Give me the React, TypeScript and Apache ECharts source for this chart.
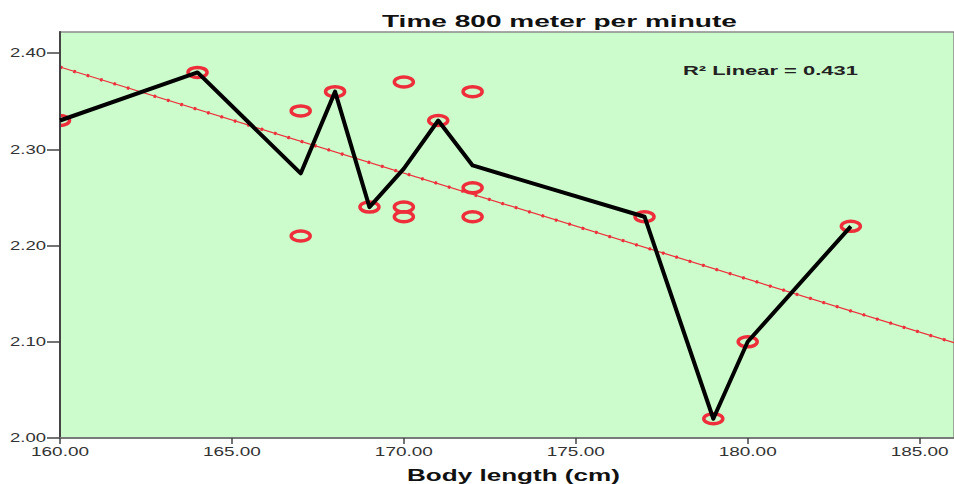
import React, { useEffect, useRef } from "react";
import * as echarts from "echarts";

const bodyLength = [160, 164, 167, 167, 168, 169, 170, 170, 170, 171, 172, 172, 172, 177, 179, 180, 183];
const time800 = [2.33, 2.38, 2.34, 2.21, 2.36, 2.24, 2.37, 2.24, 2.23, 2.33, 2.36, 2.26, 2.23, 2.23, 2.02, 2.1, 2.22];
const xTicks = [160, 165, 170, 175, 180, 185];
const yTicks = [2.0, 2.1, 2.2, 2.3, 2.4];
const titleText = "Time 800 meter per minute";
const xAxisTitle = "Body length (cm)";
const r2Label = "R² Linear = 0.431";

const X_MIN = 160;
const X_MAX = 186;
const Y_MIN = 2.0;
const Y_MAX = 2.422;
const FONT = '"Liberation Sans", Arial, sans-serif';

function groupMeans(): [number, number][] {
  const map = new Map<number, number[]>();
  bodyLength.forEach((x, i) => {
    if (!map.has(x)) map.set(x, []);
    map.get(x)!.push(time800[i]);
  });
  return Array.from(map.entries())
    .sort((a, b) => a[0] - b[0])
    .map(([x, ys]) => [x, ys.reduce((s, v) => s + v, 0) / ys.length]);
}

function linearFit() {
  const n = bodyLength.length;
  const mx = bodyLength.reduce((s, v) => s + v, 0) / n;
  const my = time800.reduce((s, v) => s + v, 0) / n;
  let sxy = 0;
  let sxx = 0;
  for (let i = 0; i < n; i++) {
    sxy += (bodyLength[i] - mx) * (time800[i] - my);
    sxx += (bodyLength[i] - mx) ** 2;
  }
  const slope = sxy / sxx;
  const intercept = my - slope * mx;
  return (x: number) => intercept + slope * x;
}

function measure(text: string, size: number, weight: string) {
  const c = document.createElement("canvas").getContext("2d")!;
  c.font = `${weight} ${size}px ${FONT}`;
  return c.measureText(text).width || 1;
}

export default function App() {
  const ref = useRef<HTMLDivElement>(null);

  useEffect(() => {
    if (!ref.current) return;
    const chart = echarts.init(ref.current, undefined, { renderer: "svg" });
    const fit = linearFit();
    const fitData = [
      [X_MIN, fit(X_MIN)],
      [X_MAX, fit(X_MAX)],
    ];
    const scatterData = bodyLength.map((x, i) => [x, time800[i]]);
    const red = "#ee2e3a";

    chart.setOption({
      animation: false,
      backgroundColor: "#ffffff",
      grid: {
        left: 60,
        top: 32,
        width: 896,
        height: 406,
        show: true,
        backgroundColor: "#ccfccb",
        borderColor: "#8a8a8a",
        borderWidth: 1.5,
      },
      xAxis: {
        type: "value",
        min: X_MIN,
        max: X_MAX,
        interval: 5,
        z: 4,
        axisLine: { show: true, lineStyle: { color: "#7a7a7a", width: 2 } },
        axisTick: { show: true, length: 6, customValues: xTicks, lineStyle: { color: "#444", width: 1.5 } },
        axisLabel: { show: false },
        splitLine: { show: false },
      },
      yAxis: {
        type: "value",
        min: Y_MIN,
        max: Y_MAX,
        interval: 0.1,
        z: 4,
        axisLine: { show: true, lineStyle: { color: "#444", width: 2 } },
        axisTick: { show: true, length: 13, customValues: yTicks, lineStyle: { color: "#444", width: 1.5 } },
        axisLabel: { show: false },
        splitLine: { show: false },
      },
      series: [
        {
          type: "line",
          data: fitData,
          symbol: "none",
          z: 2,
          lineStyle: { color: red, width: 1.2 },
        },
        {
          type: "line",
          data: fitData,
          symbol: "none",
          z: 2,
          lineStyle: { color: red, width: 3.2, type: [2.5, 11.5] },
        },
        {
          type: "custom",
          data: scatterData,
          clip: true,
          z: 3,
          renderItem: (_params: any, api: any) => {
            const p = api.coord([api.value(0), api.value(1)]);
            return {
              type: "ellipse",
              shape: { cx: p[0], cy: p[1], rx: 9.5, ry: 5 },
              style: { fill: "none", stroke: red, lineWidth: 3.5 },
            };
          },
          encode: { x: 0, y: 1 },
        },
        {
          type: "line",
          data: groupMeans(),
          symbol: "none",
          z: 4,
          lineStyle: { color: "#000", width: 4, join: "round" },
        },
      ],
    });

    const graphics: any[] = [];

    const mk = (
      text: string,
      x: number,
      y: number,
      size: number,
      weight: string,
      targetW: number,
      align: string,
      color: string
    ) => ({
      type: "text",
      x,
      y,
      z: 20,
      scaleX: targetW / measure(text, size, weight),
      silent: true,
      style: {
        text,
        fontFamily: FONT,
        fontSize: size,
        fontWeight: weight,
        fill: color,
        textAlign: align,
        textVerticalAlign: "middle",
      },
    });

    graphics.push(mk(titleText, 382, 21, 17, "bold", 355, "left", "#111"));
    graphics.push(mk(r2Label, 683, 71, 13, "bold", 175, "left", "#222"));
    graphics.push(mk(xAxisTitle, 407, 475, 17, "bold", 213, "left", "#111"));

    const xLabelScale = 58 / measure("160.00", 12, "normal");
    xTicks.forEach((v) => {
      const p = chart.convertToPixel({ gridIndex: 0 }, [v, Y_MIN]) as number[];
      graphics.push({
        type: "text",
        x: p[0],
        y: 452,
        z: 20,
        scaleX: xLabelScale,
        silent: true,
        style: { text: v.toFixed(2), fontFamily: FONT, fontSize: 12, fill: "#333", textAlign: "center", textVerticalAlign: "middle" },
      });
    });
    const yLabelScale = 36 / measure("2.30", 12, "normal");
    yTicks.forEach((v) => {
      const p = chart.convertToPixel({ gridIndex: 0 }, [X_MIN, v]) as number[];
      graphics.push({
        type: "text",
        x: 46,
        y: p[1],
        z: 20,
        scaleX: yLabelScale,
        silent: true,
        style: { text: v.toFixed(2), fontFamily: FONT, fontSize: 12, fill: "#333", textAlign: "right", textVerticalAlign: "middle" },
      });
    });

    chart.setOption({ graphic: graphics });

    return () => chart.dispose();
  }, []);

  return (
    <div
      ref={ref}
      style={{ position: "absolute", left: 0, top: 0, width: 954, height: 484, background: "#fff" }}
    />
  );
}
